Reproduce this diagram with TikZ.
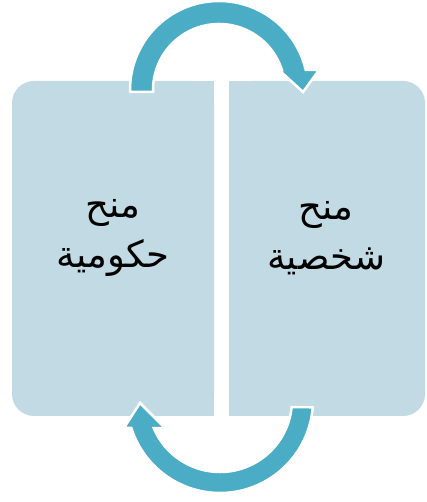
\documentclass[tikz,border=0pt]{standalone}
\usepackage{fontspec}
\newfontfamily\arabicfont[Script=Arabic]{DejaVu Sans}
\TeXXeTstate=1
\definecolor{boxfill}{RGB}{193,218,228}
\definecolor{arrowfill}{RGB}{75,172,198}
\begin{document}
\begin{tikzpicture}[x=1pt,y=1pt,
  panel/.style={fill=boxfill, rounded corners=22pt, inner sep=0pt, minimum height=335pt},
  arlabel/.style={font=\arabicfont\fontsize{37}{50}\selectfont, align=center, text=black},
  cyclearrow/.style={fill=arrowfill, draw=white, line width=2.5pt, line join=miter}]
\useasboundingbox (0,0) rectangle (427,502);
\fill[white] (0,0) rectangle (427,502);
% panels
\node[panel, minimum width=202pt] (L) at (113,253.5) {};
\node[panel, minimum width=196pt] (R) at (327,253.5) {};
\fill[boxfill] (L.north) rectangle (L.south east);
\fill[boxfill] (R.north west) rectangle (R.south);
% texts
\node[arlabel] (Lt) at (113,264) {\beginR منح\endR\\\beginR حكومية\endR};
\node[arlabel] (Rt) at (326,264) {\beginR منح\endR\\\beginR شخصية\endR};
% top arrow (left panel -> right panel)
\begin{scope}[shift={(219,412)}]
\coordinate (topbase) at (-89,-2);
\path[cyclearrow] (topbase) -- (-89,0) arc[start angle=180, end angle=13, radius=89]
  -- (100,20) -- (84,-2) -- (60,20) -- (17.6:66) arc[start angle=17.6, end angle=180, radius=66]
  -- (-66,-2) -- cycle;
\end{scope}
% bottom arrow (right panel -> left panel)
\begin{scope}[shift={(220,102)}]
\path[cyclearrow] (-4.5:93) arc[start angle=-4.5, end angle=-162.5, radius=93]
  -- (-96,-28) -- (-80,-3) -- (-55,-28) -- (-157.1:72) arc[start angle=-157.1, end angle=-5.6, radius=72]
  -- cycle;
\end{scope}
\end{tikzpicture}
\end{document}
